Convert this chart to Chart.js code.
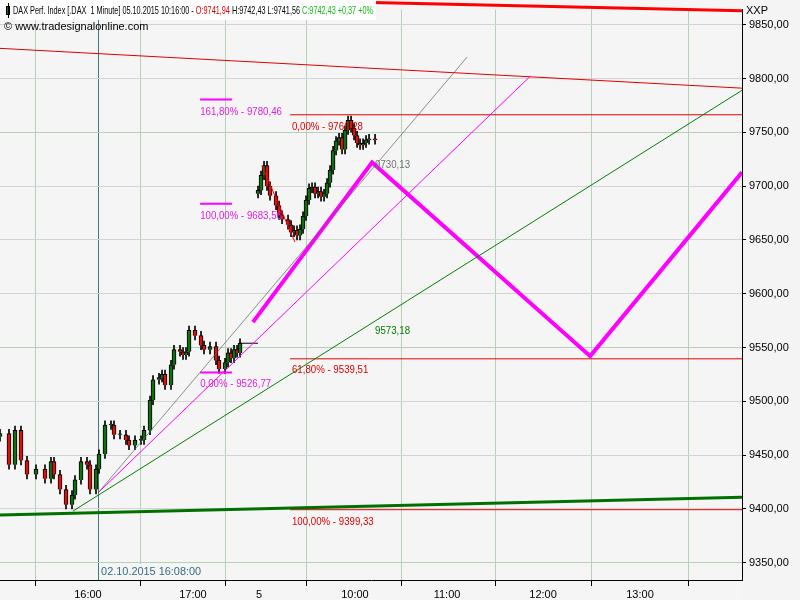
<!DOCTYPE html>
<html>
<head>
<meta charset="utf-8">
<script src="https://cdn.jsdelivr.net/npm/chart.js@4.4.0/dist/chart.umd.min.js"></script>
<style>
  body { margin: 0; background: #f4f4f4; }
  #wrap { width: 800px; height: 600px; }
</style>
</head>
<body>
<div id="wrap"><canvas id="chart"></canvas></div>
<script>
// bar index (one unit = 3px of original chart) and close price
const barIndex = [0, 3, 5, 7, 9, 12, 15, 17, 18, 20, 22, 24, 25, 27, 29, 30, 32, 33, 35, 37, 38, 40, 42, 43, 45, 47, 48, 50, 51, 53, 54, 55, 57, 58, 60, 61, 62, 63, 65, 67, 68, 70, 72, 73, 75, 76, 77, 78, 79, 80,
  86, 87, 88, 89, 90, 92, 93, 94, 96, 97, 98, 99, 100, 101, 102, 103, 104, 105, 106, 107, 108, 109, 110, 111, 112, 113, 114, 115, 116, 117, 118, 119, 120, 121, 122, 123, 125];
const closes = [9470, 9441, 9473, 9445, 9432, 9437, 9428, 9444, 9432, 9418, 9404, 9413, 9427, 9444, 9441, 9418, 9437, 9451, 9478, 9478, 9469, 9469, 9464, 9459, 9464, 9464, 9473, 9501, 9520, 9522, 9525, 9515, 9534, 9548, 9546, 9543, 9546, 9566, 9561, 9552, 9548, 9551, 9538, 9530, 9536, 9545, 9540, 9548, 9545, 9554,
  9696, 9710, 9719, 9700, 9691, 9682, 9673, 9669, 9664, 9657, 9659, 9654, 9660, 9672, 9687, 9698, 9699, 9693, 9695, 9690, 9693, 9703, 9715, 9733, 9742, 9745, 9734, 9752, 9761, 9754, 9747, 9740, 9738, 9740, 9743, 9744, 9743];

const hourTicks = [29.3, 64.3, 86.3, 118.3, 149, 181, 213.3];
const hourLabels = ['16:00', '17:00', '5', '10:00', '11:00', '12:00', '13:00'];

const lineRedTop = [[0, 9828], [247.3, 9791]];
const lineRedTopStep = [[124, 9870.5], [247.3, 9863]];
const lineGreenThick = [[0, 9394.5], [247.3, 9411]];
const lineGreenThin = [[24.3, 9398], [247.3, 9789]];
const lineGrayThin = [[32.7, 9415], [155.7, 9820]];
const lineMagentaThin = [[32.7, 9415], [176.7, 9802]];
const zigzag = [[84.3, 9573.6], [124, 9722], [196.7, 9542], [247.3, 9712.8]];
const lineRedDown = [[87.3, 9719], [98.3, 9648]];
const levels = [9766.28, 9539.51, 9399.33];
const magentaLevels = [9780.46, 9683.56, 9526.77];

const labels = [
  { x: 66.7, y: 9769, t: '161,80% - 9780,46', c: '#e020e0' },
  { x: 97.3, y: 9755, t: '0,00% - 9766,28', c: '#e00000' },
  { x: 125, y: 9720, t: '9730,13', c: '#707070' },
  { x: 66.7, y: 9672, t: '100,00% - 9683,56', c: '#e020e0' },
  { x: 125, y: 9565, t: '9573,18', c: '#008000' },
  { x: 66.7, y: 9516, t: '0,00% - 9526,77', c: '#e020e0' },
  { x: 97.3, y: 9529, t: '61,80% - 9539,51', c: '#e00000' },
  { x: 97.3, y: 9388, t: '100,00% - 9399,33', c: '#e00000' }
];

const pts = a => a.map(p => ({ x: p[0], y: p[1] }));
const opens = closes.map((c, i) => i === 0 || barIndex[i] - barIndex[i - 1] > 3 ? c - 3 : closes[i - 1]);
const bodies = closes.map((c, i) => ({ x: barIndex[i], y: [opens[i], c === opens[i] ? c + 0.8 : c] }));
const wicks = closes.map((c, i) => ({ x: barIndex[i], y: [Math.min(c, opens[i]) - 4, Math.max(c, opens[i]) + 4] }));
const bodyColors = closes.map((c, i) => c >= opens[i] ? '#107010' : '#e01010');

function line(data, color, width, extra) {
  return Object.assign({ type: 'line', data: pts(data), borderColor: color, borderWidth: width, pointRadius: 0, fill: false, tension: 0 }, extra || {});
}

const datasets = [
  { type: 'bar', data: wicks, backgroundColor: '#000', barThickness: 1, grouped: false, order: 2 },
  { type: 'bar', data: bodies, backgroundColor: bodyColors, borderColor: '#000', borderWidth: 1, barThickness: 4, grouped: false, order: 1 },
  line(lineRedTop, '#e00000', 1),
  line(lineRedTopStep, '#ff0000', 3, { clip: false }),
  line(lineGreenThick, '#007000', 3),
  line(lineGreenThin, '#008000', 1),
  line(lineGrayThin, '#606060', 0.7),
  line(lineMagentaThin, '#ff00ff', 1),
  line(zigzag, '#ff00ff', 4),
  line(lineRedDown, '#ff0000', 1),
  line([[80, 9554], [86, 9554]], '#000', 1)
];
levels.forEach(v => datasets.push(line([[96.7, v], [247.3, v]], '#e00000', 1)));
magentaLevels.forEach(v => datasets.push(line([[66.7, v], [77.3, v]], '#ff00ff', 2)));

const FONT = '11px "Liberation Sans", Arial, sans-serif';

const overlay = {
  id: 'overlay',
  beforeDraw(chart) {
    const { ctx, chartArea: a } = chart;
    ctx.save();
    ctx.fillStyle = '#f5f5f5';
    ctx.fillRect(0, 0, a.right, 600);
    const xs = chart.scales.x;
    ctx.strokeStyle = '#3a7a80';
    ctx.lineWidth = 1;
    const vx = Math.round(xs.getPixelForValue(32.7)) + 0.5;
    ctx.beginPath(); ctx.moveTo(vx, 0); ctx.lineTo(vx, a.bottom); ctx.stroke();
    ctx.restore();
  },
  afterDraw(chart) {
    const { ctx, chartArea: a } = chart;
    const xs = chart.scales.x, ys = chart.scales.y;
    ctx.save();
    ctx.font = FONT;
    ctx.textBaseline = 'middle';
    labels.forEach(l => {
      ctx.fillStyle = l.c;
      const w = ctx.measureText(l.t).width;
      ctx.fillText(l.t, xs.getPixelForValue(l.x), ys.getPixelForValue(l.y), w * 0.88);
    });
    // bottom date label
    const vx = xs.getPixelForValue(32.7);
    ctx.fillStyle = '#f5f5f5';
    ctx.fillRect(vx + 1, a.bottom - 16, 104, 15);
    ctx.fillStyle = '#3a6a80';
    ctx.fillText('02.10.2015 16:08:00', vx + 3, a.bottom - 8, 100);
    // header
    ctx.fillStyle = '#ffffff';
    ctx.fillRect(0, 0, 376, 20);
    ctx.fillStyle = '#107010';
    ctx.fillRect(6, 6, 4, 9);
    ctx.strokeStyle = '#000';
    ctx.strokeRect(6.5, 6.5, 3, 8);
    ctx.beginPath(); ctx.moveTo(8.5, 3); ctx.lineTo(8.5, 18); ctx.stroke();
    const parts = [['DAX Perf. Index [.DAX  1 Minute] 05.10.2015 10:16:00 - ', '#000'], ['O:9741,94 ', '#e00000'], ['H:9742,43 L:9741,56 ', '#000'], ['C:9742,43 +0,37 +0%', '#10c010']];
    ctx.font = '11px "Liberation Sans", Arial, sans-serif';
    const total = parts.reduce((s, p) => s + ctx.measureText(p[0]).width, 0);
    const k = 360 / total;
    let px = 13;
    parts.forEach(p => {
      const w = ctx.measureText(p[0]).width * k;
      ctx.fillStyle = p[1]; ctx.fillText(p[0], px, 11, w); px += w;
    });
    ctx.fillStyle = '#000';
    ctx.fillText('© www.tradesignalonline.com', 4, 27, 146);
    ctx.fillText('XXP', a.right + 4, 11);
    ctx.restore();
  }
};

new Chart(document.getElementById('chart'), {
  data: { datasets },
  options: {
    responsive: true,
    maintainAspectRatio: false,
    animation: false,
    layout: { padding: 0 },
    plugins: { legend: { display: false }, tooltip: { enabled: false } },
    scales: {
      x: {
        type: 'linear', min: 0, max: 247.3, offset: false,
        afterBuildTicks: s => { s.ticks = hourTicks.map(v => ({ value: v })); },
        ticks: { autoSkip: false, maxRotation: 0, color: '#000', padding: 2, font: { size: 11, family: 'Liberation Sans' }, callback: (v, i) => hourLabels[i] },
        grid: { color: '#b8d0b8', tickLength: 6, tickColor: '#000' },
        border: { color: '#000' },
        afterFit: s => { s.height = 20; }
      },
      y: {
        position: 'right', min: 9334, max: 9864,
        afterBuildTicks: s => { const t = []; for (let v = 9350; v <= 9850; v += 50) t.push({ value: v }); s.ticks = t; },
        ticks: { color: '#000', font: { size: 11, family: 'Liberation Sans' }, callback: v => v.toFixed(2).replace('.', ',') },
        grid: {
          color: c => (c.tick && (c.tick.value - 9350) % 200 === 0) ? '#b8d0b8' : '#d4d4d4',
          lineWidth: 1, tickLength: 4, tickColor: '#000'
        },
        border: { color: '#000' },
        afterFit: s => { s.width = 58; }
      }
    }
  },
  plugins: [overlay]
});
</script>
</body>
</html>
